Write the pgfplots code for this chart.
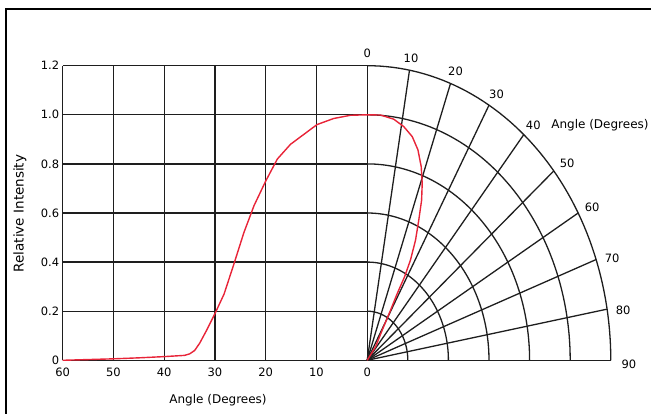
\documentclass[border=0pt]{standalone}
\usepackage{fontspec}
\setmainfont{DejaVu Sans}
\usepackage{pgfplots}
\usepackage{pgfplotstable}
\pgfplotsset{compat=1.18}
\definecolor{curve}{RGB}{232,36,56}
\definecolor{gridc}{RGB}{30,30,30}
\tikzset{gridline/.style={gridc, line width=1.3pt}}

% Cartesian half: angle (degrees) vs relative intensity
\pgfplotstableread{
deg I
60 0.000
55 0.003
50 0.006
45 0.010
40 0.015
36 0.020
35 0.026
34 0.040
33 0.070
31.7 0.120
30 0.190
28.2 0.270
26.3 0.390
24.3 0.520
22.3 0.630
20 0.730
17.7 0.820
15.1 0.880
12.5 0.920
9.9 0.960
6.6 0.985
3.3 0.998
0 1.000
}\cartdata

% Polar half: x,y position of the curve in intensity units
\pgfplotstableread{
u v
0 1.000
0.066 0.999
0.131 0.982
0.180 0.952
0.222 0.911
0.250 0.857
0.266 0.789
0.271 0.721
0.268 0.652
0.254 0.571
0.238 0.489
0.213 0.408
0.184 0.340
0.148 0.272
0.115 0.204
0.074 0.123
0.041 0.055
0 0
}\polardata

\begin{document}
\begin{tikzpicture}
\useasboundingbox (0pt,0pt) rectangle (651pt,414pt);
\draw[line width=2pt,black] (6pt,-5pt) -- (6pt,405pt) -- (660pt,405pt);
\begin{axis}[
  at={(62.7pt,53.7pt)}, anchor=south west,
  x=203pt, y=245.5pt,
  xmin=-1.5, xmax=1.2, ymin=0, ymax=1.2,
  enlargelimits=false, clip=false,
  axis line style={draw=none},
  major tick length=0pt,
  xtick={-1.5,-1.25,-1,-0.75,-0.5,-0.25,0},
  xticklabels={60,50,40,30,20,10,0},
  ytick={0,0.2,0.4,0.6,0.8,1.0,1.2},
  yticklabels={0,0.2,0.4,0.6,0.8,1.0,1.2},
  tick label style={font=\fontsize{11.5}{12}\selectfont},
  xticklabel style={yshift=-4.5pt},
  /pgf/number format/assume math mode=true,
]
% cartesian grid
\pgfplotsinvokeforeach{-1.5,-1.25,-1,-0.75,-0.5,-0.25}{
  \addplot[gridline] coordinates {(#1,0) (#1,1.2)};
}
\pgfplotsinvokeforeach{0.2,0.4,0.6,0.8,1.0,1.2}{
  \addplot[gridline] coordinates {(-1.5,#1) (0,#1)};
  \addplot[gridline, domain=0:90, samples=61] ({#1*sin(x)},{#1*cos(x)});
}
\addplot[gridline] coordinates {(-1.5,0) (1.2,0)};
% radial lines
\pgfplotsinvokeforeach{0,10,20,30,40,50,60,70,80}{
  \draw[gridline] (axis cs:0,0) -- (axis cs:{1.2*sin(#1)},{1.2*cos(#1)});
}
% polar angle labels
\begin{scope}[font=\fontsize{11.5}{12}\selectfont]
\node at (axis cs:0,1.250) {0};
\node at (axis cs:0.216,1.230) {10};
\node at (axis cs:0.435,1.176) {20};
\node at (axis cs:0.637,1.084) {30};
\node at (axis cs:0.818,0.958) {40};
\node at (axis cs:0.985,0.802) {50};
\node at (axis cs:1.108,0.623) {60};
\node at (axis cs:1.207,0.416) {70};
\node at (axis cs:1.261,0.205) {80};
\node at (axis cs:1.289,-0.016) {90};
\node[anchor=west, inner sep=0pt, font=\fontsize{12}{13}\selectfont] at (axis cs:0.906,0.958) {Angle (Degrees)};
\end{scope}
% curve
\addplot[curve, line width=1.4pt] table[x expr={-\thisrow{deg}/40}, y=I] {\cartdata};
\addplot[curve, line width=1.4pt] table[x=u, y=v] {\polardata};
\end{axis}
\node[font=\fontsize{12}{13}\selectfont] at (218pt,14pt) {Angle (Degrees)};
\node[rotate=90, font=\fontsize{13.5}{14}\selectfont] at (20pt,200.5pt) {Relative Intensity};
\end{tikzpicture}
\end{document}
